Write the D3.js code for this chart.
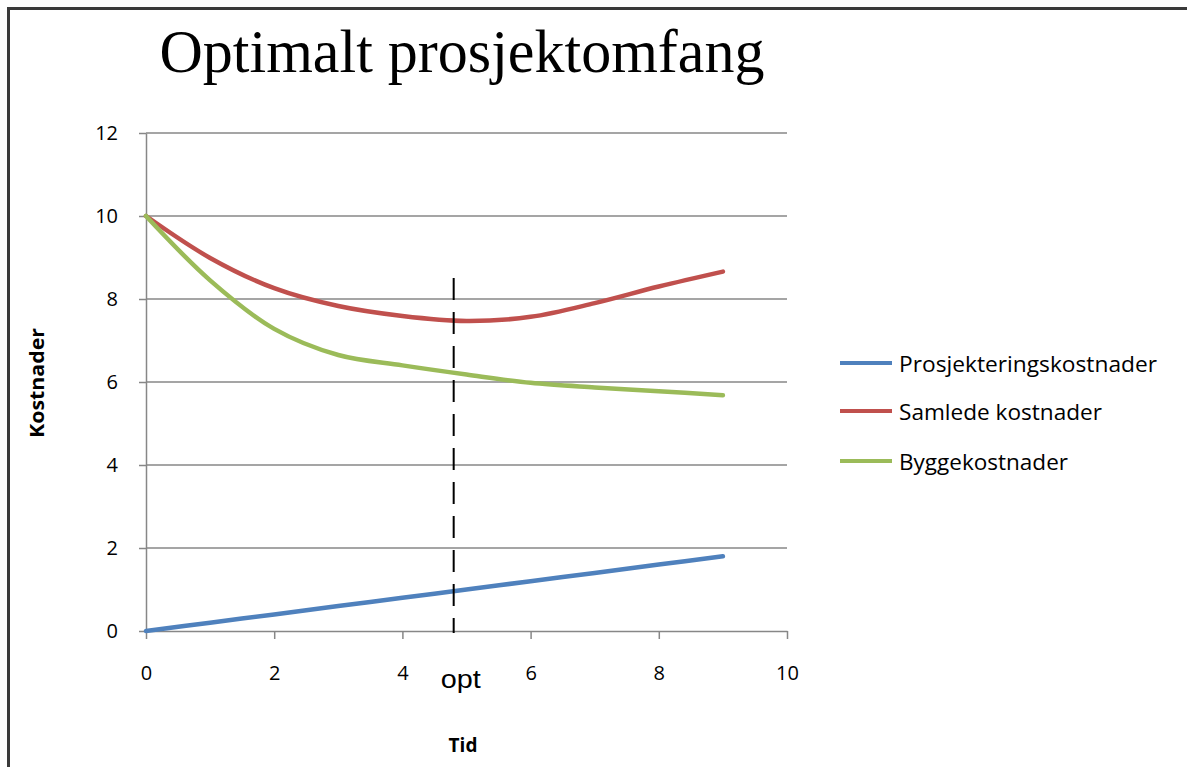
<!DOCTYPE html>
<html>
<head>
<meta charset="utf-8">
<script src="https://cdn.jsdelivr.net/npm/d3@7"></script>
<style>
  html, body { margin: 0; padding: 0; background: #fff; }
  svg { display: block; }
</style>
</head>
<body>
<svg id="chart" width="1187" height="767"></svg>
<script>
// ---- data ----
const title = "Optimalt prosjektomfang";
const xValues = [0, 1, 2, 3, 4, 5, 6, 7, 8, 9];
const seriesNames = ["Prosjekteringskostnader", "Samlede kostnader", "Byggekostnader"];
const prosjektering = [0, 0.2, 0.4, 0.6, 0.8, 1.0, 1.2, 1.4, 1.6, 1.8];
const samlede = [10, 8.99, 8.26, 7.83, 7.59, 7.47, 7.57, 7.90, 8.30, 8.66];
const bygge = [10, 8.45, 7.28, 6.65, 6.40, 6.18, 5.98, 5.87, 5.78, 5.68];
const seriesColors = ["#4F81BD", "#C0504D", "#9BBB59"];
const xTicks = [0, 2, 4, 6, 8, 10];
const yTicks = [0, 2, 4, 6, 8, 10, 12];
const optValue = 4.8;
const optLabel = "opt";
const xTitle = "Tid";
const yTitle = "Kostnader";

// ---- layout ----
const svg = d3.select("#chart");
const x = d3.scaleLinear().domain([0, 10]).range([146, 787]);
const y = d3.scaleLinear().domain([0, 12]).range([631, 133]);
const axisColor = "#878787";
const tickFont = "'Open Sans', 'Noto Sans', sans-serif";

// outer frame
svg.append("rect")
  .attr("x", 8.5).attr("y", 8.5)
  .attr("width", 1300).attr("height", 900)
  .attr("fill", "none").attr("stroke", "#3a3a3a").attr("stroke-width", 3);

// title
svg.append("text")
  .attr("x", 462).attr("y", 72)
  .attr("text-anchor", "middle")
  .attr("font-family", "'Liberation Serif', 'Times New Roman', serif")
  .attr("font-size", 62)
  .attr("textLength", 605).attr("lengthAdjust", "spacingAndGlyphs")
  .attr("fill", "#000")
  .text(title);

// gridlines
svg.append("g").selectAll("line")
  .data(yTicks.filter(d => d > 0))
  .join("line")
  .attr("x1", x(0)).attr("x2", x(10))
  .attr("y1", d => y(d)).attr("y2", d => y(d))
  .attr("stroke", axisColor).attr("stroke-width", 1.5);

// y axis
const yAxis = svg.append("g")
  .attr("transform", `translate(${x(0)},0)`)
  .call(d3.axisLeft(y).tickValues(yTicks).tickSize(7).tickPadding(21).tickSizeOuter(0));
yAxis.select(".domain").attr("stroke", axisColor).attr("stroke-width", 1.5);
yAxis.selectAll(".tick line").attr("stroke", axisColor).attr("stroke-width", 1.5);
yAxis.selectAll(".tick text")
  .attr("font-family", tickFont).attr("font-size", 20).attr("fill", "#000");

// x axis
const xAxis = svg.append("g")
  .attr("transform", `translate(0,${y(0)})`)
  .call(d3.axisBottom(x).tickValues(xTicks).tickSize(8).tickPadding(27).tickSizeOuter(0));
xAxis.select(".domain").attr("stroke", axisColor).attr("stroke-width", 1.5);
xAxis.selectAll(".tick line").attr("stroke", axisColor).attr("stroke-width", 1.5);
xAxis.selectAll(".tick text")
  .attr("font-family", tickFont).attr("font-size", 20).attr("fill", "#000");

// series lines
const allSeries = [prosjektering, samlede, bygge];
const line = d3.line()
  .x((d, i) => x(xValues[i]))
  .y(d => y(d))
  .curve(d3.curveCatmullRom.alpha(0.5));

allSeries.forEach((s, i) => {
  svg.append("path")
    .datum(s)
    .attr("d", line)
    .attr("fill", "none")
    .attr("stroke", seriesColors[i])
    .attr("stroke-width", 4.5)
    .attr("stroke-linecap", "round")
    .attr("stroke-linejoin", "round");
});

// opt dashed line
svg.append("line")
  .attr("x1", x(optValue)).attr("x2", x(optValue))
  .attr("y1", 278).attr("y2", y(0) + 2)
  .attr("stroke", "#000").attr("stroke-width", 2)
  .attr("stroke-dasharray", "22,12");

svg.append("text")
  .attr("x", x(optValue) + 7).attr("y", 688)
  .attr("text-anchor", "middle")
  .attr("font-family", "'Liberation Sans', Arial, sans-serif")
  .attr("font-size", 26)
  .attr("textLength", 40).attr("lengthAdjust", "spacingAndGlyphs")
  .attr("fill", "#000")
  .text(optLabel);

// axis titles
svg.append("text")
  .attr("x", 463).attr("y", 752)
  .attr("text-anchor", "middle")
  .attr("font-family", tickFont).attr("font-weight", "bold").attr("font-size", 19)
  .attr("fill", "#000")
  .text(xTitle);

svg.append("text")
  .attr("transform", "translate(44,383) rotate(-90)")
  .attr("text-anchor", "middle")
  .attr("font-family", tickFont).attr("font-weight", "bold").attr("font-size", 19)
  .attr("textLength", 110).attr("lengthAdjust", "spacingAndGlyphs")
  .attr("fill", "#000")
  .text(yTitle);

// legend
const legendY = [363, 411, 461];
const legendLen = [258, 203, 169];
const legend = svg.append("g");
seriesNames.forEach((name, i) => {
  legend.append("line")
    .attr("x1", 840).attr("x2", 892)
    .attr("y1", legendY[i]).attr("y2", legendY[i])
    .attr("stroke", seriesColors[i]).attr("stroke-width", 4);
  legend.append("text")
    .attr("x", 899).attr("y", legendY[i] + 9)
    .attr("font-family", tickFont).attr("font-size", 21)
    .attr("textLength", legendLen[i]).attr("lengthAdjust", "spacingAndGlyphs")
    .attr("fill", "#000")
    .text(name);
});
</script>
</body>
</html>
